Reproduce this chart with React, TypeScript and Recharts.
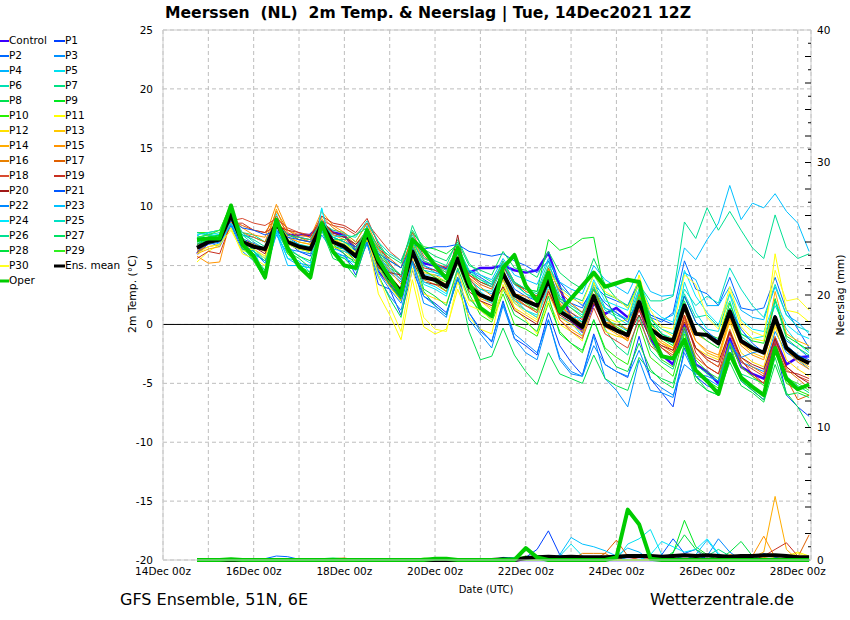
import React from "react";
import { LineChart, Line, XAxis, YAxis, CartesianGrid, ReferenceLine } from "recharts";

// forecast hours since 14Dec 00z (run 12Z, 6-hourly)
const hours = [
  18, 24, 30, 36, 42, 48, 54, 60, 66, 72, 78, 84, 90, 96, 102, 108, 114, 120, 126, 132, 138, 144, 150, 156,
  162, 168, 174, 180, 186, 192, 198, 204, 210, 216, 222, 228, 234, 240, 246, 252, 258, 264, 270, 276, 282,
  288, 294, 300, 306, 312, 318, 324, 330, 336, 342,
];

const dayTicks = [0, 24, 48, 72, 96, 120, 144, 168, 192, 216, 240, 264, 288, 312, 336];
const dayLabels = [
  "14Dec 00z", "", "16Dec 00z", "", "18Dec 00z", "", "20Dec 00z", "", "22Dec 00z", "",
  "24Dec 00z", "", "26Dec 00z", "", "28Dec 00z",
];
const tempTicks = [-20, -15, -10, -5, 0, 5, 10, 15, 20, 25];

// 2m temperature (°C)
const control = [6.0, 7.0, 7.3, 9.0, 7.2, 6.8, 6.3, 8.3, 7.6, 7.6, 7.6, 8.6, 7.8, 7.6, 6.3, 7.6, 4.6, 3.4, 2.2, 6.0, 5.2, 5.0, 4.8, 5.4, 4.4, 4.8, 4.8, 5.0, 4.6, 4.4, 4.6, 6.1, 3.2, 0.4, -0.6, 1.8, 0.9, 1.4, 0.6, 1.5, -1.2, -2.6, -3.4, -0.1, -3.4, -4.0, -5.0, -1.2, -3.6, -4.2, -4.6, -1.2, -3.4, -2.8, -2.7];
const p1 = [6.2, 6.8, 7.0, 8.6, 6.4, 6.0, 5.4, 8.0, 7.0, 6.2, 5.8, 8.2, 6.6, 6.0, 4.2, 7.0, 3.4, 3.0, 0.8, 4.6, 2.4, 1.8, 1.0, 3.8, 1.0, -0.4, -1.5, 2.0, -1.2, -1.8, -2.6, 1.0, -1.8, -3.2, -4.3, -0.8, -3.4, -4.0, -4.5, -1.0, -4.6, -5.8, -7.0, -2.0, -4.4, -5.2, -5.6, -1.8, -4.8, -5.6, -6.4, -1.6, -6.0, -7.0, -7.8];
const p2 = [6.8, 7.4, 7.6, 9.0, 7.6, 7.4, 7.0, 8.8, 7.4, 6.8, 6.5, 8.6, 7.6, 7.4, 6.6, 8.0, 6.0, 4.4, 3.6, 6.6, 5.0, 4.6, 4.2, 6.2, 4.6, 4.0, 3.4, 5.0, 3.0, 2.4, 2.0, 4.6, 2.2, 1.8, 1.4, 3.4, 2.4, 2.0, 1.6, 3.8, 0.6, 0.2, 1.0, 5.4, 3.0, 2.6, 1.6, 4.0, 1.4, 1.2, 1.4, 4.0, 1.2, -0.4, -2.0];
const p3 = [7.6, 7.0, 6.6, 8.4, 6.2, 5.4, 4.6, 7.6, 6.0, 5.2, 5.0, 7.6, 6.2, 5.8, 4.8, 6.8, 4.0, 2.4, 1.2, 5.2, 1.8, 1.4, 0.6, 4.6, 0.4, -0.8, -2.0, 1.6, -1.2, -2.4, -3.0, 0.4, -2.8, -4.0, -4.4, -1.0, -4.6, -5.6, -7.0, -3.0, -5.6, -5.8, -6.2, -2.4, -4.4, -4.6, -5.2, -1.4, -3.2, -3.6, -4.0, -0.6, -2.4, -3.0, -3.8];
const p4 = [7.8, 7.6, 7.2, 8.4, 6.8, 6.0, 4.2, 7.8, 5.6, 5.0, 4.8, 8.0, 6.0, 5.8, 5.4, 8.4, 5.6, 4.6, 3.8, 6.8, 4.2, 4.2, 4.0, 6.0, 3.8, 3.0, 2.6, 4.4, 2.0, 1.6, 1.2, 4.0, 1.6, 1.0, 0.2, 2.6, 1.4, 1.0, 0.4, 3.6, 0.8, 0.4, 0.8, 4.4, 3.8, 1.6, 1.6, 3.2, 1.2, 0.6, 0.4, 3.2, 0.8, 0.2, -0.8];
const p5 = [7.0, 7.8, 7.2, 9.6, 6.6, 6.2, 5.6, 9.4, 6.6, 5.8, 5.2, 9.9, 6.0, 5.6, 5.2, 7.4, 4.6, 3.6, 2.6, 6.0, 3.4, 3.0, 2.4, 5.6, 3.4, 2.8, 2.0, 3.8, 1.8, 1.2, 0.8, 3.4, 0.6, 0.2, -1.0, 2.0, 0.4, 0.0, -0.6, 2.8, -0.4, -1.2, -1.6, 3.6, 1.0, -0.4, -0.6, 2.6, -0.8, -1.2, -1.0, 1.6, -0.4, -1.6, -2.4];
const p6 = [7.4, 7.6, 7.8, 9.4, 7.6, 6.8, 6.4, 8.8, 7.2, 6.8, 6.6, 8.8, 7.4, 7.0, 6.2, 8.0, 6.6, 5.0, 4.2, 7.2, 5.0, 4.4, 4.0, 6.4, 3.8, 3.0, 2.8, 5.0, 3.6, 3.0, 2.8, 5.4, 2.4, 1.6, 1.0, 3.6, 1.4, 0.8, 0.4, 3.0, 0.2, -0.8, -1.2, 2.6, 0.6, 0.8, -0.2, 2.0, -1.0, -1.8, -2.4, 0.8, -1.8, -2.6, -3.2];
const p7 = [7.2, 7.4, 7.6, 8.8, 7.8, 7.6, 7.0, 8.4, 7.6, 7.2, 7.0, 8.6, 8.0, 7.8, 7.0, 8.6, 7.0, 5.4, 4.8, 8.4, 6.2, 5.4, 5.0, 7.2, 5.2, 4.2, 3.6, 5.2, 3.6, 2.6, 2.2, 4.0, 1.4, 0.6, 0.2, 2.4, -0.4, -1.8, -2.6, 0.8, -2.2, -3.2, -3.8, -0.6, -3.4, -4.2, -4.8, -2.4, -4.2, -4.6, -5.0, -2.0, -4.4, -5.2, -5.8];
const p8 = [6.6, 7.2, 7.4, 9.6, 6.4, 5.8, 4.6, 8.0, 6.2, 5.6, 4.8, 8.0, 5.6, 5.2, 4.0, 7.2, 4.2, 2.2, 0.6, 5.4, 2.8, 1.6, 0.8, 4.0, -0.6, -3.0, -2.7, -0.3, -2.6, -4.0, -5.1, -2.4, -4.2, -4.6, -5.0, -2.6, -4.6, -5.2, -5.6, -2.8, -4.0, -4.6, -5.0, -1.8, -4.4, -5.6, -6.0, -2.6, -4.8, -5.6, -6.4, -2.8, -5.8, -7.0, -8.7];
const p9 = [7.0, 7.4, 7.6, 10.0, 7.0, 6.0, 4.2, 8.6, 6.0, 5.0, 4.4, 8.4, 6.6, 6.4, 5.4, 8.0, 6.0, 4.8, 4.2, 7.8, 6.6, 6.4, 6.0, 6.8, 4.4, 3.6, 3.2, 5.0, 3.4, 3.0, 2.8, 7.2, 6.3, 6.6, 7.3, 7.4, 2.4, 0.4, -0.6, 2.4, 0.2, -1.2, -1.8, 2.4, 0.2, -0.8, -1.2, 1.8, -0.8, -1.4, -1.6, 2.2, -1.0, -1.6, -2.2];
const p10 = [7.8, 7.8, 8.0, 10.2, 7.4, 5.6, 4.0, 8.8, 6.2, 4.8, 3.8, 8.6, 6.8, 6.0, 5.2, 8.2, 5.0, 3.4, 2.0, 6.6, 4.2, 3.6, 2.8, 5.2, 2.6, 0.8, 0.2, 2.6, 0.0, -0.4, -1.0, 1.8, -0.6, -1.6, -2.4, 0.4, -2.0, -2.8, -3.4, 0.0, -2.8, -3.6, -4.4, -0.8, -3.8, -4.8, -5.4, -1.6, -4.6, -5.4, -6.0, -2.2, -5.0, -5.6, -6.0];
const p11 = [5.3, 6.2, 6.8, 8.2, 6.0, 5.6, 5.0, 8.6, 7.2, 6.6, 6.0, 8.0, 7.2, 7.0, 6.0, 7.6, 2.6, 0.8, -1.3, 3.8, -0.2, -0.8, -0.4, 3.0, 0.6, -0.4, -0.8, 3.4, 1.4, 0.4, -0.8, 2.0, 0.0, -0.6, -1.4, 3.6, 0.6, 0.2, 0.4, 4.2, 0.6, -0.4, -1.0, 1.4, -0.6, -1.0, -1.4, 2.8, -0.2, -1.2, -1.4, 6.0, 1.2, 1.0, 0.2];
const p12 = [6.0, 7.0, 7.2, 8.8, 6.6, 6.4, 5.8, 9.0, 7.0, 6.4, 6.2, 8.2, 6.6, 6.2, 5.4, 7.2, 4.8, 3.2, 2.0, 5.6, 2.6, 2.2, 1.8, 4.4, 2.0, 2.0, 1.2, 4.8, 2.2, 1.6, 1.0, 4.4, 1.8, 0.6, -0.2, 2.2, -0.6, -1.0, -1.2, 1.8, -0.8, -1.6, -2.0, 0.4, -2.0, -2.6, -3.0, 0.2, -2.4, -3.2, -3.6, -0.2, -3.0, -3.8, -4.4];
const p13 = [6.4, 7.0, 7.4, 9.2, 7.2, 6.8, 6.4, 9.0, 7.4, 7.0, 6.8, 8.4, 7.2, 6.8, 6.0, 7.4, 5.4, 4.2, 3.0, 6.4, 4.4, 4.2, 3.6, 6.2, 3.4, 2.0, 1.4, 3.8, 1.4, 0.8, 0.2, 2.6, 0.6, 0.0, -0.6, 2.6, 0.2, -0.2, -0.8, 2.4, 0.0, -1.0, -1.2, 1.8, -0.8, -1.4, -2.0, 0.6, -1.6, -2.4, -2.8, 0.0, -2.2, -3.0, -3.6];
const p14 = [6.0, 6.4, 6.6, 9.4, 7.0, 6.6, 6.2, 9.8, 7.4, 7.0, 6.8, 9.0, 7.6, 7.2, 6.4, 8.0, 5.8, 4.6, 3.4, 6.8, 4.6, 4.0, 3.4, 5.8, 3.2, 2.2, 1.8, 4.0, 2.0, 1.2, 0.6, 3.0, 0.4, -0.4, -1.0, 2.0, -0.2, -0.8, -1.4, 2.2, -0.4, -1.4, -2.0, 1.2, -1.4, -2.4, -2.8, 0.4, -1.6, -2.2, -2.4, 2.8, -0.8, -1.4, -1.8];
const p15 = [5.8, 5.2, 5.3, 9.0, 8.2, 7.6, 7.4, 10.2, 8.0, 7.6, 7.4, 9.6, 8.4, 7.8, 7.0, 8.6, 6.4, 4.8, 3.8, 7.2, 5.4, 5.0, 4.4, 6.2, 4.0, 3.2, 2.4, 4.6, 2.6, 2.4, 1.6, 4.0, 1.6, 0.8, 0.0, 2.6, 0.0, -0.6, -1.4, 1.4, -0.6, -1.6, -2.2, 0.8, -1.4, -2.2, -2.6, 0.6, -1.8, -2.6, -3.0, 0.4, -2.2, -3.2, -3.8];
const p16 = [6.2, 6.6, 6.8, 9.0, 7.8, 7.4, 7.0, 9.6, 8.0, 7.4, 7.0, 9.2, 8.2, 7.6, 6.8, 8.0, 5.4, 3.6, 2.4, 6.0, 3.8, 3.4, 2.8, 5.4, 3.6, 2.4, 2.0, 4.4, 2.2, 1.6, 1.2, 4.8, 1.8, 0.4, -0.4, 2.2, 0.2, 0.0, -0.4, 2.6, -0.8, -1.8, -2.4, 0.4, -2.0, -3.0, -3.6, -0.4, -2.8, -3.6, -4.2, -1.0, -3.8, -4.6, -5.4];
const p17 = [6.6, 7.2, 7.4, 8.8, 8.4, 8.0, 7.8, 9.2, 7.8, 7.2, 7.0, 8.6, 7.8, 7.4, 6.6, 7.8, 6.4, 5.6, 4.8, 7.4, 5.6, 5.2, 4.8, 6.4, 4.2, 3.4, 3.0, 5.4, 3.6, 2.8, 2.4, 4.8, 2.8, 1.8, 1.0, 3.2, 0.8, -0.4, -1.0, 1.6, -1.0, -2.0, -2.6, -0.2, -2.8, -3.6, -4.2, -1.6, -3.6, -4.4, -5.0, -2.0, -4.6, -6.4, -6.0];
const p18 = [6.4, 7.0, 7.2, 8.8, 9.0, 8.6, 8.4, 9.0, 8.2, 7.8, 7.6, 8.8, 8.4, 8.2, 7.6, 8.6, 7.4, 6.2, 5.4, 7.8, 5.8, 5.0, 4.6, 6.2, 4.0, 2.6, 2.2, 4.2, 2.4, 1.6, 1.0, 3.4, 0.4, -0.6, -1.2, 1.4, -0.8, -1.4, -2.0, 0.4, -1.8, -2.6, -3.0, 0.6, -2.0, -3.0, -3.6, -0.8, -3.2, -3.8, -4.4, -1.4, -3.6, -4.4, -4.8];
const p19 = [5.6, 6.2, 6.0, 8.6, 8.6, 8.0, 7.8, 8.4, 8.0, 7.8, 7.4, 9.2, 8.6, 8.4, 7.8, 9.0, 6.8, 5.2, 4.0, 6.6, 4.8, 4.6, 4.0, 6.0, 4.2, 3.6, 3.2, 5.0, 3.4, 3.0, 2.4, 4.6, 2.0, 1.0, 0.4, 3.0, 0.6, -0.4, -1.2, 1.2, -1.0, -2.0, -2.8, 0.8, -2.4, -3.6, -4.2, -0.6, -3.0, -4.2, -5.0, -1.6, -4.0, -4.2, -4.6];
const p20 = [6.8, 7.0, 7.2, 9.0, 7.2, 6.6, 6.0, 8.8, 7.6, 7.4, 7.2, 8.8, 7.8, 7.4, 6.8, 7.8, 4.8, 4.4, 4.2, 5.4, 3.6, 3.4, 3.2, 7.6, 2.8, 2.0, 1.6, 3.2, 1.2, 0.6, 0.0, 2.8, 0.8, 0.2, -0.4, 1.8, -0.2, -0.6, -1.0, 0.8, -1.2, -1.8, -2.2, 0.2, -2.0, -2.8, -3.2, -0.6, -2.8, -3.4, -3.8, -1.2, -3.6, -4.4, -5.0];
const p21 = [6.6, 7.2, 7.4, 8.8, 8.2, 8.0, 7.6, 8.0, 7.4, 7.2, 7.0, 8.0, 7.4, 7.0, 6.6, 7.4, 6.0, 5.4, 4.8, 6.8, 6.4, 6.6, 6.6, 6.8, 6.2, 6.0, 5.8, 6.0, 5.4, 5.0, 4.4, 5.4, 3.6, 2.4, 1.6, 3.0, 1.8, 1.0, 0.2, 2.2, 0.8, 0.4, 0.0, 2.4, 0.2, -0.6, -1.4, 1.4, -0.4, -1.6, -2.4, 0.8, -1.8, -2.6, -3.0];
const p22 = [7.2, 7.2, 7.0, 8.4, 6.8, 6.2, 5.2, 8.0, 6.4, 6.2, 6.0, 8.2, 6.8, 6.4, 5.6, 7.0, 4.4, 3.0, 1.8, 5.4, 2.4, 1.6, 0.8, 4.0, 1.0, -0.6, -1.4, 1.8, -0.8, -1.6, -2.4, 0.4, -3.0, -4.2, -4.4, -1.8, -3.4, -4.0, -4.4, -2.2, -4.6, -5.4, -6.0, -3.4, -4.2, -4.4, -4.8, -1.8, -2.8, -2.4, -2.2, 0.2, -1.4, -2.0, -2.8];
const p23 = [7.4, 7.2, 6.8, 8.6, 7.0, 6.4, 5.6, 7.8, 5.0, 5.0, 4.8, 8.0, 6.4, 6.2, 5.8, 8.0, 5.6, 4.8, 3.8, 6.6, 4.6, 4.4, 4.2, 6.0, 4.6, 4.2, 3.8, 5.6, 4.2, 3.8, 3.4, 5.6, 3.6, 3.0, 2.6, 5.0, 3.8, 3.2, 2.6, 4.6, 2.8, 2.4, 2.5, 6.5, 5.5, 7.2, 8.6, 11.8, 8.9, 10.3, 9.9, 11.1, 9.6, 8.6, 6.2];
const p24 = [7.6, 7.8, 7.6, 8.6, 7.4, 6.4, 4.0, 8.0, 5.6, 5.4, 4.4, 9.8, 6.0, 5.0, 4.6, 7.8, 5.2, 3.8, 2.6, 6.4, 3.6, 3.2, 2.6, 5.4, 3.2, 2.4, 1.8, 4.4, 2.2, 1.2, 0.6, 3.2, 1.4, 0.6, 0.6, 3.8, 2.0, 1.6, 1.2, 3.6, 1.4, 0.6, 0.2, 4.6, 2.4, 1.0, 0.0, 2.6, 0.4, -0.4, -0.6, 2.0, 0.0, -0.8, -1.2];
const p25 = [7.2, 7.8, 8.0, 9.6, 7.8, 7.0, 6.4, 8.6, 7.0, 6.6, 6.2, 8.6, 7.4, 7.6, 7.4, 8.8, 7.0, 6.0, 5.4, 7.6, 5.6, 5.2, 4.6, 6.6, 4.6, 3.8, 3.2, 5.2, 3.4, 2.6, 2.0, 4.4, 2.0, 1.4, 0.8, 3.2, 1.2, 0.6, 0.0, 2.8, 0.4, -0.4, -0.8, 3.0, 1.6, 2.4, 1.8, 4.8, 3.0, 1.6, 0.6, 3.4, 0.8, -0.2, -0.6];
const p26 = [7.8, 7.6, 7.4, 9.2, 7.6, 7.2, 6.6, 8.6, 7.6, 7.4, 7.2, 8.8, 7.4, 7.0, 6.4, 8.2, 6.2, 5.0, 4.2, 7.0, 5.4, 5.0, 4.4, 6.4, 4.4, 3.8, 3.4, 5.4, 3.6, 3.0, 2.6, 5.0, 3.2, 2.4, 2.0, 4.2, 2.6, 2.2, 1.6, 3.4, 2.0, 2.0, 2.4, 8.7, 7.3, 9.9, 8.0, 9.6, 8.0, 6.5, 5.6, 9.3, 6.5, 5.6, 6.0];
const p27 = [7.0, 7.0, 7.2, 9.8, 7.4, 6.2, 5.4, 8.6, 6.8, 6.4, 6.2, 8.8, 7.2, 7.2, 7.6, 8.2, 6.6, 5.8, 5.2, 8.0, 6.4, 5.8, 5.4, 7.0, 5.0, 4.6, 4.2, 6.2, 4.8, 4.6, 4.0, 6.2, 4.4, 3.6, 3.0, 5.6, 3.4, 2.2, 1.4, 3.6, 0.6, -0.8, -1.4, 2.0, -0.6, -1.4, -2.0, 1.4, -1.4, -2.0, -2.4, 2.0, -1.2, -2.0, -2.6];
const p28 = [6.8, 7.2, 7.6, 9.8, 6.6, 5.4, 3.8, 8.4, 6.4, 5.8, 5.4, 8.2, 6.0, 5.6, 4.6, 7.4, 5.2, 3.4, 2.2, 6.2, 3.0, 2.4, 1.6, 4.8, 2.2, 1.2, 0.4, 3.0, 0.8, 0.2, -0.6, 2.4, -0.8, -1.6, -2.2, 0.4, -2.2, -3.6, -4.0, -1.6, -3.8, -4.8, -5.4, -1.6, -4.8, -5.6, -6.0, -3.2, -5.2, -5.8, -6.6, -3.4, -6.0, -5.8, -6.2];
const p29 = [7.4, 7.6, 8.0, 10.2, 7.0, 5.4, 4.0, 8.8, 6.0, 5.2, 4.0, 8.6, 7.0, 6.8, 6.0, 8.2, 5.6, 3.8, 2.4, 7.0, 4.6, 4.0, 3.6, 6.8, 3.6, 2.6, 2.0, 4.6, 2.6, 1.8, 1.2, 4.2, 2.2, 1.4, 0.6, 3.0, 0.6, -0.2, -0.8, 2.4, -1.4, -3.0, -3.6, -0.2, -3.0, -4.0, -4.6, -1.6, -3.6, -4.4, -5.2, -2.2, -4.6, -5.0, -5.6];
const p30 = [6.0, 6.6, 6.8, 8.0, 6.2, 6.4, 5.6, 8.4, 6.8, 6.4, 6.2, 8.2, 6.8, 6.6, 6.2, 7.4, 4.2, 1.6, -0.6, 4.8, 0.6, -0.4, -0.6, 3.6, 1.6, 1.2, 0.4, 3.0, 1.8, 1.0, 0.4, 4.6, 3.0, 2.2, 1.8, 4.2, 2.8, 2.2, 1.4, 3.4, 1.2, -0.2, -0.4, 4.2, 3.4, 0.6, -0.4, 3.2, 0.2, -0.6, -1.0, 4.6, 2.0, 2.2, 1.2];
const ensMean = [6.5, 7.0, 7.2, 9.3, 7.0, 6.6, 6.4, 8.6, 7.0, 6.6, 6.4, 8.5, 7.0, 6.6, 5.8, 7.7, 5.3, 3.9, 2.8, 6.2, 4.0, 3.8, 3.2, 5.6, 3.2, 2.5, 2.1, 4.3, 2.5, 2.0, 1.6, 3.8, 1.1, 0.5, -0.2, 2.4, 0.0, -0.5, -0.9, 1.9, -0.4, -1.1, -1.4, 1.6, -0.8, -0.9, -1.6, 1.1, -1.4, -2.0, -2.4, 0.6, -2.0, -2.8, -3.3];
const oper = [7.2, 7.3, 7.3, 10.1, 6.8, 5.8, 4.0, 8.9, 6.5, 4.9, 4.0, 8.6, 6.2, 5.0, 4.8, 8.0, 5.5, 4.0, 2.5, 7.2, 6.3, 5.0, 3.9, 6.5, 3.6, 1.4, 0.7, 4.8, 5.9, 3.3, 2.0, 4.4, 1.1, 2.2, 3.3, 4.4, 3.2, 3.5, 3.8, 3.6, -0.5, -2.7, -2.9, -1.3, -3.9, -4.8, -5.9, -2.5, -4.5, -5.3, -6.0, -2.0, -4.6, -5.5, -5.1];

// precipitation (mm per 6h), [hour, mm]; hours not listed are dry
const rainControl: number[][] = [[222, 0.1], [228, 0.1]];
const rainP1: number[][] = [[192, 0.2], [198, 0.8], [204, 2.2], [210, 0.4], [216, 0.2]];
const rainP2: number[][] = [[54, 0.1], [60, 0.3], [66, 0.25], [72, 0.05]];
const rainP3: number[][] = [[258, 0.3], [264, 0.2]];
const rainP4: number[][] = [[240, 0.3], [246, 0.9], [252, 0.6], [276, 0.4]];
const rainP5: number[][] = [[210, 0.3], [216, 1.2], [222, 0.3], [246, 1.2], [252, 1.6], [258, 2.3], [264, 0.4]];
const rainP6: number[][] = [[180, 0.2], [186, 0.15]];
const rainP7: number[][] = [[288, 0.3], [294, 0.8], [300, 0.3]];
const rainP8: number[][] = [[84, 0.1], [90, 0.15], [96, 0.1]];
const rainP9: number[][] = [[270, 0.5], [276, 3.0], [282, 1.0], [288, 0.4]];
const rainP10: number[][] = [[138, 0.15], [144, 0.1]];
const rainP11: number[][] = [[324, 0.2], [330, 0.3], [336, 0.6], [342, 0.3]];
const rainP12: number[][] = [[204, 0.3], [210, 0.2]];
const rainP13: number[][] = [[312, 0.3], [318, 0.2]];
const rainP14: number[][] = [[312, 0.2], [318, 0.6], [324, 4.8], [330, 0.8]];
const rainP15: number[][] = [[300, 0.4], [306, 0.3], [312, 0.3], [318, 1.8], [324, 0.2]];
const rainP16: number[][] = [[90, 0.1], [96, 0.15], [222, 0.5], [228, 0.5], [234, 0.5]];
const rainP17: number[][] = [[234, 0.5], [240, 1.5], [246, 0.3], [336, 0.2], [342, 1.9]];
const rainP18: number[][] = [[252, 0.2], [258, 0.1]];
const rainP19: number[][] = [[318, 0.3], [324, 0.8], [330, 1.3], [336, 0.3]];
const rainP20: number[][] = [[234, 0.1], [240, 0.2]];
const rainP21: number[][] = [[264, 0.4], [270, 1.6], [276, 0.5], [282, 0.8]];
const rainP22: number[][] = [[288, 0.3], [294, 1.6], [300, 0.6], [318, 0.5], [324, 0.2]];
const rainP23: number[][] = [[60, 0.1], [210, 0.4], [216, 1.7], [222, 1.2], [228, 1.0], [234, 0.7], [240, 0.3], [282, 0.4], [288, 1.5], [294, 0.4]];
const rainP24: number[][] = [[258, 0.4], [264, 1.4], [270, 1.0], [276, 0.6], [282, 0.8], [288, 1.6], [294, 0.5]];
const rainP25: number[][] = [[144, 0.15], [150, 0.1]];
const rainP26: number[][] = [[84, 0.1], [276, 0.3], [282, 0.2]];
const rainP27: number[][] = [[180, 0.1], [186, 0.2]];
const rainP28: number[][] = [[270, 0.6], [276, 1.9], [282, 0.8], [288, 0.3], [300, 0.6], [306, 1.4], [312, 0.3]];
const rainP29: number[][] = [[186, 0.1], [192, 0.3], [198, 0.1]];
const rainP30: number[][] = [[330, 0.2], [336, 0.5], [342, 0.2]];
const rainMean: number[][] = [
  [180, 0.05], [192, 0.15], [198, 0.2], [204, 0.25], [210, 0.2], [216, 0.25], [222, 0.2], [228, 0.2],
  [234, 0.2], [240, 0.25], [246, 0.3], [252, 0.3], [258, 0.3], [264, 0.25], [270, 0.3], [276, 0.35],
  [282, 0.3], [288, 0.35], [294, 0.3], [300, 0.25], [306, 0.3], [312, 0.3], [318, 0.35], [324, 0.35],
  [330, 0.3], [336, 0.2], [342, 0.2],
];
const rainOper: number[][] = [[36, 0.05], [144, 0.1], [150, 0.1], [192, 0.9], [198, 0.2], [240, 0.2], [246, 3.8], [252, 2.7], [258, 0.1]];

const series = [
  { key: "c", name: "Control", color: "#3a00ff", width: 2.5, temp: control, rain: rainControl },
  { key: "p1", name: "P1", color: "#0040ff", width: 1, temp: p1, rain: rainP1 },
  { key: "p2", name: "P2", color: "#0068ff", width: 1, temp: p2, rain: rainP2 },
  { key: "p3", name: "P3", color: "#0090ff", width: 1, temp: p3, rain: rainP3 },
  { key: "p4", name: "P4", color: "#00b4ff", width: 1, temp: p4, rain: rainP4 },
  { key: "p5", name: "P5", color: "#00e0f0", width: 1, temp: p5, rain: rainP5 },
  { key: "p6", name: "P6", color: "#00e0b4", width: 1, temp: p6, rain: rainP6 },
  { key: "p7", name: "P7", color: "#00e084", width: 1, temp: p7, rain: rainP7 },
  { key: "p8", name: "P8", color: "#00e050", width: 1, temp: p8, rain: rainP8 },
  { key: "p9", name: "P9", color: "#00e820", width: 1, temp: p9, rain: rainP9 },
  { key: "p10", name: "P10", color: "#28f000", width: 1, temp: p10, rain: rainP10 },
  { key: "p11", name: "P11", color: "#ffff00", width: 1, temp: p11, rain: rainP11 },
  { key: "p12", name: "P12", color: "#ffe000", width: 1, temp: p12, rain: rainP12 },
  { key: "p13", name: "P13", color: "#ffc800", width: 1, temp: p13, rain: rainP13 },
  { key: "p14", name: "P14", color: "#ffac00", width: 1, temp: p14, rain: rainP14 },
  { key: "p15", name: "P15", color: "#ff9400", width: 1, temp: p15, rain: rainP15 },
  { key: "p16", name: "P16", color: "#e88000", width: 1, temp: p16, rain: rainP16 },
  { key: "p17", name: "P17", color: "#e06000", width: 1, temp: p17, rain: rainP17 },
  { key: "p18", name: "P18", color: "#d84a30", width: 1, temp: p18, rain: rainP18 },
  { key: "p19", name: "P19", color: "#c83020", width: 1, temp: p19, rain: rainP19 },
  { key: "p20", name: "P20", color: "#a01818", width: 1, temp: p20, rain: rainP20 },
  { key: "p21", name: "P21", color: "#0058ff", width: 1, temp: p21, rain: rainP21 },
  { key: "p22", name: "P22", color: "#0088ff", width: 1, temp: p22, rain: rainP22 },
  { key: "p23", name: "P23", color: "#00c0ff", width: 1, temp: p23, rain: rainP23 },
  { key: "p24", name: "P24", color: "#00e8ff", width: 1, temp: p24, rain: rainP24 },
  { key: "p25", name: "P25", color: "#00e0c4", width: 1, temp: p25, rain: rainP25 },
  { key: "p26", name: "P26", color: "#00e094", width: 1, temp: p26, rain: rainP26 },
  { key: "p27", name: "P27", color: "#00e064", width: 1, temp: p27, rain: rainP27 },
  { key: "p28", name: "P28", color: "#00e040", width: 1, temp: p28, rain: rainP28 },
  { key: "p29", name: "P29", color: "#30f020", width: 1, temp: p29, rain: rainP29 },
  { key: "p30", name: "P30", color: "#ffff20", width: 1, temp: p30, rain: rainP30 },
  { key: "mean", name: "Ens. mean", color: "#000000", width: 4, temp: ensMean, rain: rainMean },
  { key: "oper", name: "Oper", color: "#00cc00", width: 4, temp: oper, rain: rainOper },
];

const W = 850;
const H = 620;
const PLOT_LEFT = 163;
const PLOT_RIGHT = 811;
const PLOT_TOP = 30;
const PLOT_BOTTOM = 560;
const FONT = "'DejaVu Sans', Verdana, sans-serif";

const rainAt = (list: number[][], h: number) => {
  const hit = list.find((d) => d[0] === h);
  return hit ? hit[1] : 0;
};

const data = hours.map((h, i) => {
  const row: any = { h };
  series.forEach((s) => {
    row[s.key] = s.temp[i];
    row[s.key + "R"] = rainAt(s.rain, h);
  });
  return row;
});

const rainTicks = Array.from({ length: 41 }, (_, i) => i);

const RainTick = ({ y, payload }: any) => {
  const v = payload.value;
  const len = v % 2 === 0 ? 6 : 3;
  return (
    <g>
      {v > 0 && v < 40 && (
        <line x1={PLOT_RIGHT - len} x2={PLOT_RIGHT} y1={y} y2={y} stroke="#000" strokeWidth={1} />
      )}
      {v % 10 === 0 && (
        <text x={PLOT_RIGHT + 6} y={y} dy="0.36em" fontSize={10.5} fill="#000" fontFamily={FONT}>
          {v}
        </text>
      )}
    </g>
  );
};

const Overlay = () => (
  <svg
    width={W}
    height={H}
    style={{ position: "absolute", left: 0, top: 0, pointerEvents: "none", fontFamily: FONT }}
  >
    <text x={165} y={18} fontSize={15.6} fontWeight="bold" fill="#000" style={{ whiteSpace: "pre" }}>
      {"Meerssen  (NL)  2m Temp. & Neerslag | Tue, 14Dec2021 12Z"}
    </text>
    {series.map((s, k) => {
      const col = k % 2;
      const row = Math.floor(k / 2);
      const lx = col === 0 ? -2 : 54;
      const y = 40 + row * 15;
      return (
        <g key={s.key}>
          <line
            x1={lx}
            x2={lx + 11}
            y1={y + 1}
            y2={y + 1}
            stroke={s.color}
            strokeWidth={s.key === "mean" || s.key === "oper" ? 3 : 2}
          />
          <text x={lx + 11} y={y} dy="0.36em" fontSize={10.5} fill="#000">
            {s.name}
          </text>
        </g>
      );
    })}
    <text x={132} y={294} transform="rotate(-90 132 294)" textAnchor="middle" dy="0.36em" fontSize={10.8} fill="#000">
      2m Temp. (°C)
    </text>
    <text x={840} y={295} transform="rotate(-90 840 295)" textAnchor="middle" dy="0.36em" fontSize={10.8} fill="#000">
      Neerslag (mm)
    </text>
    <text x={486} y={593} textAnchor="middle" fontSize={10} fill="#000">
      Date (UTC)
    </text>
    <text x={120} y={605} fontSize={16} fill="#000">
      GFS Ensemble, 51N, 6E
    </text>
    <text x={650} y={605} fontSize={16} fill="#000">
      Wetterzentrale.de
    </text>
  </svg>
);

export default function App() {
  return (
    <div style={{ position: "absolute", left: 0, top: 0, width: W, height: H, background: "#fff", fontFamily: FONT }}>
      <LineChart
        width={W}
        height={H}
        data={data}
        margin={{ top: PLOT_TOP, right: W - PLOT_RIGHT - 30, bottom: H - PLOT_BOTTOM - 30, left: PLOT_LEFT - 40 }}
      >
        <CartesianGrid yAxisId="t" stroke="#bdbdbd" strokeDasharray="4 3" />
        <XAxis
          dataKey="h"
          type="number"
          domain={[0, 343]}
          ticks={dayTicks}
          interval={0}
          height={30}
          tickLine={false}
          axisLine={{ stroke: "#cccccc" }}
          tick={{ fontSize: 10.5, fill: "#000" }}
          tickFormatter={(v: number) => dayLabels[dayTicks.indexOf(v)]}
        />
        <YAxis
          yAxisId="t"
          type="number"
          domain={[-20, 25]}
          ticks={tempTicks}
          interval={0}
          width={40}
          tickLine={false}
          tickMargin={4}
          axisLine={{ stroke: "#cccccc" }}
          tick={{ fontSize: 10.5, fill: "#000" }}
        />
        <YAxis
          yAxisId="r"
          orientation="right"
          type="number"
          domain={[0, 40]}
          ticks={rainTicks}
          interval={0}
          width={30}
          tickLine={false}
          axisLine={{ stroke: "#cccccc" }}
          tick={<RainTick />}
        />
        <ReferenceLine yAxisId="t" y={25} stroke="#cccccc" />
        <ReferenceLine yAxisId="t" y={0} stroke="#000" strokeWidth={1} />
        {series.map((s) => (
          <Line
            key={s.key}
            yAxisId="t"
            dataKey={s.key}
            type="linear"
            stroke={s.color}
            strokeWidth={s.width}
            strokeLinejoin="round"
            dot={false}
            activeDot={false}
            isAnimationActive={false}
          />
        ))}
        {series.map((s) => (
          <Line
            key={s.key + "R"}
            yAxisId="r"
            dataKey={s.key + "R"}
            type="linear"
            stroke={s.color}
            strokeWidth={s.width}
            strokeLinejoin="round"
            dot={false}
            activeDot={false}
            isAnimationActive={false}
          />
        ))}
      </LineChart>
      <Overlay />
    </div>
  );
}
